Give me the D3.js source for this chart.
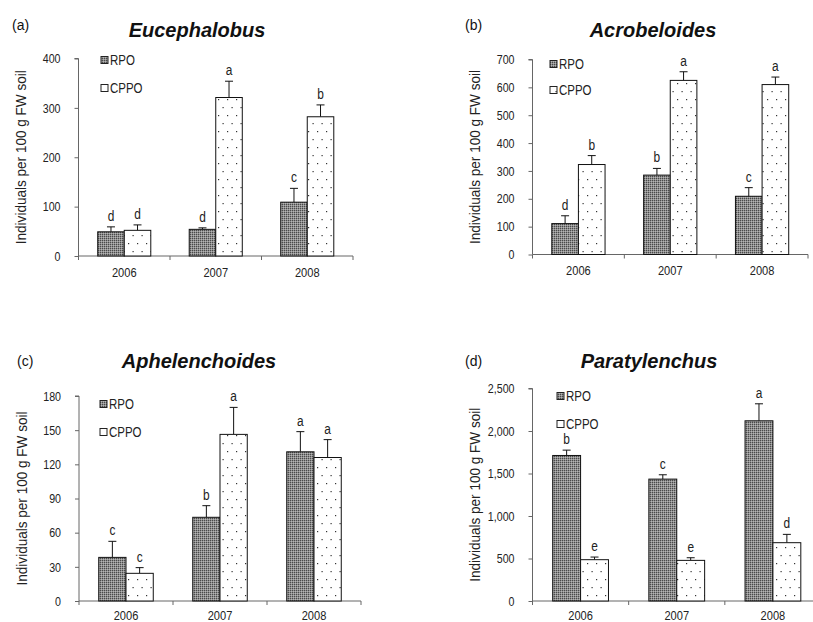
<!DOCTYPE html>
<html><head><meta charset="utf-8">
<script src="https://cdn.jsdelivr.net/npm/d3@7"></script>
<style>body{margin:0;background:#fff}svg{display:block}</style>
</head><body>
<svg id="c" width="813" height="622"></svg>
<script>
const years = ["2006", "2007", "2008"];
const seriesNames = ["RPO", "CPPO"];
const titles = ["Eucephalobus", "Acrobeloides", "Aphelenchoides", "Paratylenchus"];
const panelTags = ["(a)", "(b)", "(c)", "(d)"];
const yMax = [400, 700, 180, 2500];
const yStep = [100, 100, 30, 500];
// values per panel: [RPO], [CPPO]
const rpoMean = [[49, 54, 109], [111, 285, 209], [38.3, 73.5, 131], [1712, 1434, 2120]];
const rpoErr  = [[59, 57, 137], [139, 309, 240], [52.4, 83.7, 148.7], [1775, 1485, 2320]];
const cppoMean = [[52, 321, 282], [323, 625, 610], [24.3, 146.3, 126], [486, 478, 686]];
const cppoErr  = [[63, 354, 306], [355, 656, 637], [29.3, 170, 141.7], [517, 509, 784]];
const rpoLetters = [["d", "d", "c"], ["d", "b", "c"], ["c", "b", "a"], ["b", "c", "a"]];
const cppoLetters = [["d", "a", "b"], ["b", "a", "a"], ["c", "a", "a"], ["e", "e", "d"]];
const yLabel = "Individuals per 100 g FW soil";

// layout (pixels)
const layout = [
  {x0: 78.5, x1: 353, yb: 256, yt: 58.5, tagX: 12, tagY: 30, titleX: 197, titleY: 37, legX: 101, legY: 60, legGap: 28, labX: 20, catY: 20.5},
  {x0: 532.5, x1: 808, yb: 254.5, yt: 59.5, tagX: 465, tagY: 30, titleX: 653, titleY: 37, legX: 550, legY: 64, legGap: 26, labX: 474, catY: 20.5},
  {x0: 79, x1: 361, yb: 601, yt: 396, tagX: 17, tagY: 366, titleX: 199, titleY: 368, legX: 100, legY: 404, legGap: 28, labX: 21, catY: 18.5},
  {x0: 532.5, x1: 821, yb: 601, yt: 388.5, tagX: 465, tagY: 366, titleX: 649, titleY: 368, legX: 557, legY: 396, legGap: 28, labX: 474, catY: 18.5}
];

const svg = d3.select("#c");
const defs = svg.append("defs");
const pd = defs.append("pattern").attr("id", "dark").attr("patternUnits", "userSpaceOnUse")
  .attr("width", 2).attr("height", 2);
pd.append("rect").attr("width", 2).attr("height", 2).attr("fill", "#8e8e8e");
pd.append("rect").attr("width", 1).attr("height", 1).attr("fill", "#4a4a4a");
pd.append("rect").attr("x", 1).attr("y", 1).attr("width", 1).attr("height", 1).attr("fill", "#b4b4b4");
const pdot = defs.append("pattern").attr("id", "dots").attr("patternUnits", "userSpaceOnUse")
  .attr("width", 9).attr("height", 16);
pdot.append("rect").attr("width", 9).attr("height", 16).attr("fill", "#fff");
pdot.append("rect").attr("x", 2).attr("y", 3).attr("width", 1.2).attr("height", 1.2).attr("fill", "#333");
pdot.append("rect").attr("x", 6.5).attr("y", 11).attr("width", 1.2).attr("height", 1.2).attr("fill", "#333");

const fills = ["url(#dark)", "url(#dots)"];
const font = "'Liberation Sans', Arial, sans-serif";
const axisColor = "#666";

// emulate a narrow (condensed) face by compressing the natural text length
function narrowify(sel, k) {
  sel.each(function () {
    const len = this.getComputedTextLength();
    if (len > 0) d3.select(this).attr("textLength", len * k).attr("lengthAdjust", "spacingAndGlyphs");
  });
}

layout.forEach((L, p) => {
  const g = svg.append("g");
  const x = d3.scaleBand().domain(years).range([L.x0, L.x1]).padding(0);
  const bw = x.bandwidth();
  const xs = d3.scaleBand().domain(seriesNames).range([bw / 2 - bw * 0.29, bw / 2 + bw * 0.29]).padding(0);
  const y = d3.scaleLinear().domain([0, yMax[p]]).range([L.yb, L.yt]);
  const ticks = d3.range(0, yMax[p] + 1e-9, yStep[p]);

  // tag and title
  g.append("text").attr("x", L.tagX).attr("y", L.tagY).text(panelTags[p])
    .attr("font-family", font).attr("font-size", 14).attr("fill", "#111");
  g.append("text").attr("x", L.titleX).attr("y", L.titleY).text(titles[p])
    .attr("text-anchor", "middle").attr("font-family", font)
    .attr("font-size", 20).attr("font-weight", "bold").attr("font-style", "italic").attr("fill", "#111");

  // y axis
  const yAxis = d3.axisLeft(y).tickValues(ticks).tickSize(4).tickPadding(14)
    .tickFormat(yMax[p] >= 1000 ? d3.format(",") : d3.format("d"));
  const ya = g.append("g").attr("transform", `translate(${L.x0},0)`).call(yAxis);
  ya.select(".domain").attr("stroke", axisColor).attr("d", `M-4,${L.yt}H0V${L.yb}`);
  ya.selectAll(".tick line").attr("stroke", axisColor);
  ya.selectAll("text").attr("font-family", font).attr("font-size", 13).attr("fill", "#222").call(narrowify, 0.82);

  // x axis
  const xa = g.append("g").attr("transform", `translate(0,${L.yb})`);
  xa.append("line").attr("x1", L.x0).attr("x2", L.x1).attr("stroke", axisColor);
  const bounds = [L.x0].concat(years.map(d => x(d) + bw));
  xa.selectAll("line.tk").data(bounds).join("line").attr("class", "tk")
    .attr("x1", d => d).attr("x2", d => d).attr("y1", 0).attr("y2", 4).attr("stroke", axisColor);
  xa.selectAll("text").data(years).join("text")
    .attr("x", d => x(d) + bw / 2).attr("y", L.catY).attr("text-anchor", "middle")
    .attr("font-family", font).attr("font-size", 13.5).attr("fill", "#222").text(d => d).call(narrowify, 0.82);

  // y label
  g.append("text").attr("transform", `translate(${L.labX},${(L.yb + L.yt) / 2}) rotate(-90)`)
    .attr("text-anchor", "middle").attr("dominant-baseline", "central")
    .attr("font-family", font).attr("font-size", 15).attr("fill", "#222").text(yLabel)
    .attr("textLength", 174).attr("lengthAdjust", "spacingAndGlyphs");

  // bars
  const rows = [];
  years.forEach((yr, i) => {
    rows.push({yr, s: "RPO", v: rpoMean[p][i], e: rpoErr[p][i], l: rpoLetters[p][i], f: fills[0]});
    rows.push({yr, s: "CPPO", v: cppoMean[p][i], e: cppoErr[p][i], l: cppoLetters[p][i], f: fills[1]});
  });
  const cx = d => x(d.yr) + xs(d.s) + xs.bandwidth() / 2;
  const bg = g.append("g");
  bg.selectAll("line.err").data(rows).join("line").attr("class", "err")
    .attr("x1", cx).attr("x2", cx)
    .attr("y1", d => y(d.v)).attr("y2", d => y(d.e)).attr("stroke", "#111").attr("stroke-width", 1);
  bg.selectAll("line.cap").data(rows).join("line").attr("class", "cap")
    .attr("x1", d => cx(d) - 4).attr("x2", d => cx(d) + 4)
    .attr("y1", d => y(d.e)).attr("y2", d => y(d.e)).attr("stroke", "#111").attr("stroke-width", 1);
  bg.selectAll("rect").data(rows).join("rect")
    .attr("x", d => x(d.yr) + xs(d.s)).attr("width", xs.bandwidth())
    .attr("y", d => y(d.v)).attr("height", d => y(0) - y(d.v))
    .attr("fill", d => d.f).attr("stroke", "#111").attr("stroke-width", 1);
  bg.selectAll("text").data(rows).join("text")
    .attr("x", cx).attr("y", d => y(d.e) - 6)
    .attr("text-anchor", "middle").attr("font-family", font).attr("font-size", 14).attr("fill", "#222")
    .text(d => d.l).call(narrowify, 0.85);

  // legend
  const lg = g.append("g");
  seriesNames.forEach((s, i) => {
    lg.append("rect").attr("x", L.legX).attr("y", L.legY + i * L.legGap - 3.5).attr("width", 7).attr("height", 7)
      .attr("fill", fills[i]).attr("stroke", "#222").attr("stroke-width", 1);
    lg.append("text").attr("x", L.legX + 9).attr("y", L.legY + i * L.legGap + 5).text(s)
      .attr("font-family", font).attr("font-size", 14).attr("fill", "#222").call(narrowify, 0.82);
  });
});
</script>
</body></html>
